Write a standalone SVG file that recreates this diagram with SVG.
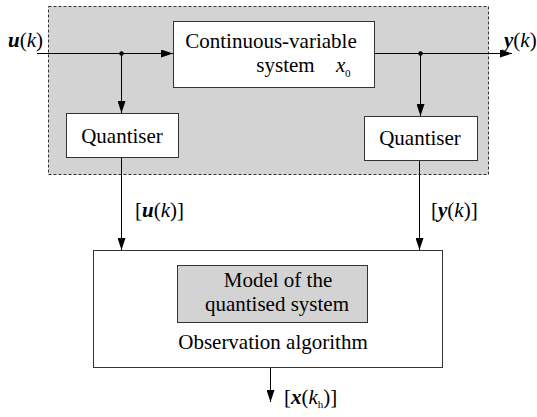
<svg xmlns="http://www.w3.org/2000/svg" width="537" height="417" viewBox="0 0 537 417">
<defs>
<marker id="ah" viewBox="0 0 12 8" refX="12" refY="4" markerWidth="12" markerHeight="8" markerUnits="userSpaceOnUse" orient="auto">
<path d="M0,0 L12,4 L0,8 Z" fill="#000"/>
</marker>
</defs>
<style>
text{font-family:'Liberation Serif',serif;font-size:21px;fill:#000}
.v{font-weight:bold;font-style:italic}
.i{font-style:italic}
.s{font-size:11px}
.box{fill:#fff;stroke:#333;stroke-width:1}
.line{stroke:#000;stroke-width:1;fill:none}
</style>
<g id="plant">
<rect x="48.5" y="6.5" width="440" height="168" fill="#d3d3d3" stroke="#333" stroke-dasharray="3,2"/>
</g>
<g id="system">
<rect class="box" x="173.5" y="21.5" width="201" height="66"/>
<text font-family="Liberation Serif"><tspan x="271" y="48" text-anchor="middle">Continuous-variable</tspan><tspan x="285.5" y="72" text-anchor="middle">system</tspan><tspan x="336" y="72" class="i">x</tspan><tspan x="345" y="77" class="s">0</tspan></text>
</g>
<g id="quantiser-u">
<rect class="box" x="66.5" y="113.5" width="112" height="44"/>
<text font-family="Liberation Serif" x="122" y="143" text-anchor="middle">Quantiser</text>
</g>
<g id="quantiser-y">
<rect class="box" x="364.5" y="116.5" width="113" height="44"/>
<text font-family="Liberation Serif" x="420" y="145" text-anchor="middle">Quantiser</text>
</g>
<g id="observer">
<rect class="box" x="93.5" y="250.5" width="349" height="117"/>
<rect x="177.5" y="265.5" width="190" height="57" fill="#d3d3d3" stroke="#333"/>
<text font-family="Liberation Serif"><tspan x="278" y="287" text-anchor="middle">Model of the</tspan><tspan x="277" y="311" text-anchor="middle">quantised system</tspan></text>
<text font-family="Liberation Serif" x="273" y="349" text-anchor="middle">Observation algorithm</text>
</g>
<g id="connectors">
<line class="line" x1="37" y1="53.5" x2="173" y2="53.5" marker-end="url(#ah)"/>
<line class="line" x1="121.5" y1="53.5" x2="121.5" y2="113" marker-end="url(#ah)"/>
<circle cx="121.5" cy="53.5" r="2.3" fill="#000"/>
<line class="line" x1="375" y1="53.5" x2="512" y2="53.5" marker-end="url(#ah)"/>
<line class="line" x1="420.5" y1="53.5" x2="420.5" y2="116" marker-end="url(#ah)"/>
<circle cx="420.5" cy="53.5" r="2.3" fill="#000"/>
<line class="line" x1="121.5" y1="158" x2="121.5" y2="250" marker-end="url(#ah)"/>
<line class="line" x1="419.5" y1="161" x2="419.5" y2="250" marker-end="url(#ah)"/>
<line class="line" x1="270.5" y1="368" x2="270.5" y2="402" marker-end="url(#ah)"/>
<text font-family="Liberation Serif" x="8" y="47"><tspan class="v">u</tspan>(<tspan class="i">k</tspan>)</text>
<text font-family="Liberation Serif" x="504" y="47"><tspan class="v">y</tspan>(<tspan class="i">k</tspan>)</text>
<text font-family="Liberation Serif" x="135" y="217">[<tspan class="v">u</tspan>(<tspan class="i">k</tspan>)]</text>
<text font-family="Liberation Serif" x="431" y="217">[<tspan class="v">y</tspan>(<tspan class="i">k</tspan>)]</text>
<text font-family="Liberation Serif" x="284" y="404">[<tspan class="v">x</tspan>(<tspan class="i">k</tspan><tspan class="s" dy="4">h</tspan><tspan dy="-4">)]</tspan></text>
</g>
</svg>
